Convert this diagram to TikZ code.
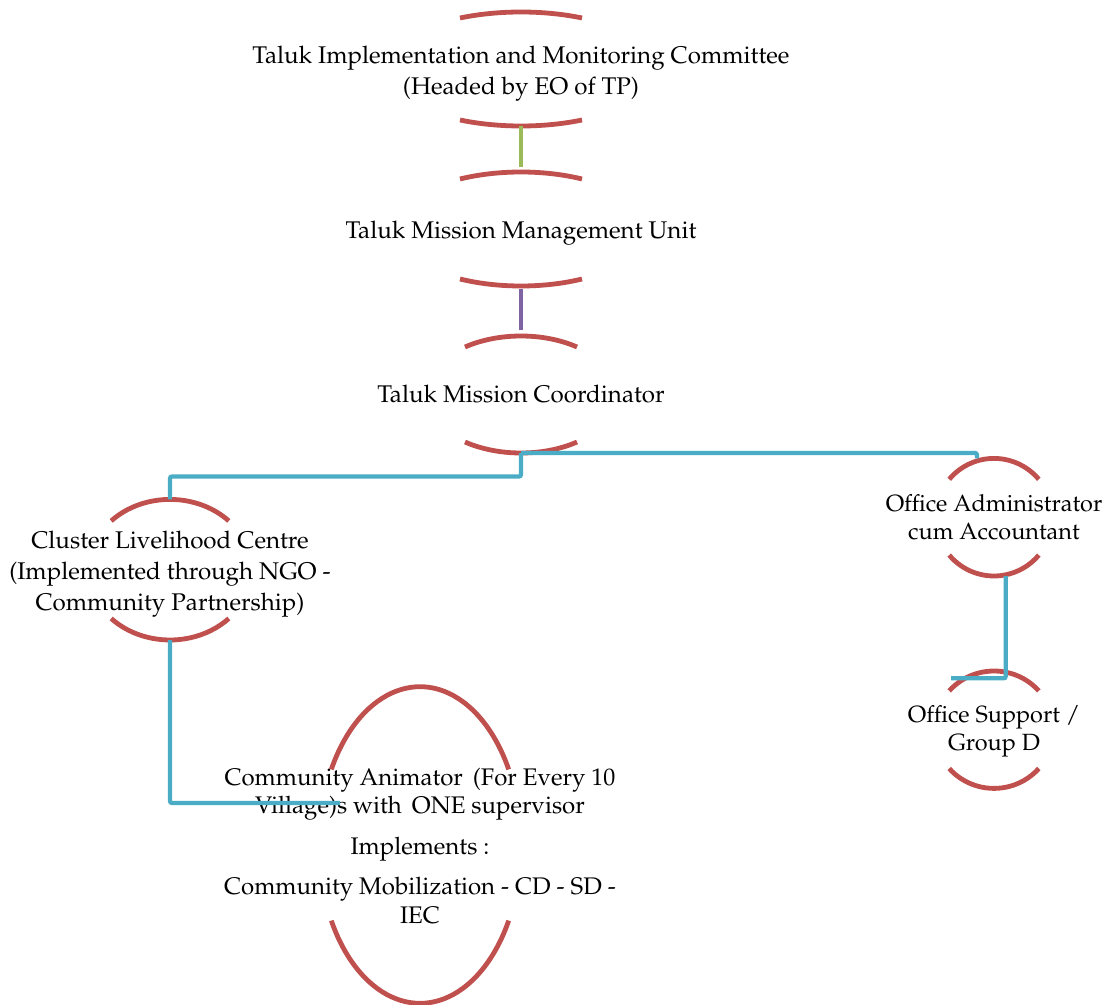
\documentclass[tikz,border=0pt]{standalone}
\usepackage[T1]{fontenc}
\renewcommand\rmdefault{ppl}
\usetikzlibrary{calc}
\definecolor{capred}{HTML}{C0504D}
\definecolor{linkgreen}{HTML}{9BBB59}
\definecolor{linkpurple}{HTML}{8064A2}
\definecolor{linkblue}{HTML}{4BACC6}

% Draws the upper and lower arcs of an ellipse around a text node and names
% the middle points of both arcs (<node>-top, <node>-bot).
% #1 node, #2 rise of the ellipse centre above the node centre,
% #3 half span of an arc, #4 vertical radius, #5 drop of the arc ends from the centre line
\newcommand\ovalcaps[5]{%
  \pgfmathsetmacro\capang{acos(#5/#4)}%
  \pgfmathsetmacro\caprad{#3/sin(\capang)}%
  \pgfmathsetmacro\caprx{\caprad*0.75}%
  \pgfmathsetmacro\capry{#4*0.75}%
  \coordinate (#1-mid) at ($(#1.center)+(0,#2)$);
  \coordinate (#1-top) at ($(#1-mid)+(0,#4)$);
  \coordinate (#1-bot) at ($(#1-mid)+(0,-#4)$);
  \draw[capline] (#1-mid) ++({\caprad*cos(90+\capang)},{#4*sin(90+\capang)})
    arc[start angle=90+\capang, end angle=90-\capang, x radius=\caprx pt, y radius=\capry pt];
  \draw[capline] (#1-mid) ++({\caprad*cos(270-\capang)},{#4*sin(270-\capang)})
    arc[start angle=270-\capang, end angle=270+\capang, x radius=\caprx pt, y radius=\capry pt];
}

\begin{document}
\begin{tikzpicture}[x=0.75pt,y=0.75pt,
  unit/.style={inner sep=0pt, align=center, font=\fontsize{18.1}{23.2}\selectfont},
  small/.style={font=\fontsize{17.6}{21}\selectfont},
  capline/.style={draw=capred, line width=3.6pt},
  link/.style={line width=3.2pt, rounded corners=1.5pt}]
\useasboundingbox (0,0) rectangle (1112,-1005);

% units
\node[unit] (A) at (521,-72.6) {\strut Taluk Implementation and Monitoring Committee\\(Headed by EO of TP)\strut};
\node[unit] (B) at (521,-232.1) {\strut Taluk Mission Management Unit\strut};
\node[unit] (C) at (521,-396.1) {\strut Taluk Mission Coordinator\strut};
\node[unit] (D) at (170,-573.1) {\strut Cluster Livelihood Centre\\(Implemented through NGO -\\Community Partnership)\strut};
\node[unit, small] (E) at (994,-519.4) {\strut Office Administrator\\cum Accountant\strut};
\node[unit, small] (F) at (994,-730.7) {\strut Office Support /\\Group D\strut};
\node[unit, font=\fontsize{18}{21.2}\selectfont] (G) at (420,-848.5)
  {\strut Community Animator \kern3pt(For Every 10\\Village)s with \kern3pt ONE supervisor\\[9.3pt]
   Implements :\\[9.3pt]
   Community Mobilization - CD - SD -\\IEC\strut};

% arcs around each unit
\ovalcaps{A}{3.6}{61}{57}{51}
\ovalcaps{B}{3.1}{61}{57}{50}
\ovalcaps{C}{1.6}{56}{58.5}{47.5}
\ovalcaps{D}{3.4}{58.8}{70.3}{48.8}
\ovalcaps{E}{2.2}{44.8}{58.8}{37.9}
\ovalcaps{F}{1}{44.8}{58.7}{38.8}
\ovalcaps{G}{3.5}{88.7}{158.3}{75.6}

% connector end points
\coordinate (Ein)  at ($(E-top)+(-17,0)$);
\coordinate (Eout) at ($(E-bot)+(11.7,0)$);
\coordinate (Fin)  at ($(F-top)+(-43,-7.3)$);
\coordinate (Gin)  at ($(G.center)+(-80,45.5)$);

% connectors
\draw[link, draw=linkgreen, line width=3.6pt, shorten >=3.5pt] (A-bot) -- (B-top);
\draw[link, draw=linkpurple, shorten <=2.5pt, shorten >=4.5pt] (B-bot) -- (C-top);
\draw[link, draw=linkblue] (C-bot) -- ++(0,-23.5) -| (D-top);
\draw[link, draw=linkblue] (C-bot) -| (Ein);
\draw[link, draw=linkblue] (D-bot) |- (Gin);
\draw[link, draw=linkblue] (Eout) |- (Fin);
\end{tikzpicture}
\end{document}
